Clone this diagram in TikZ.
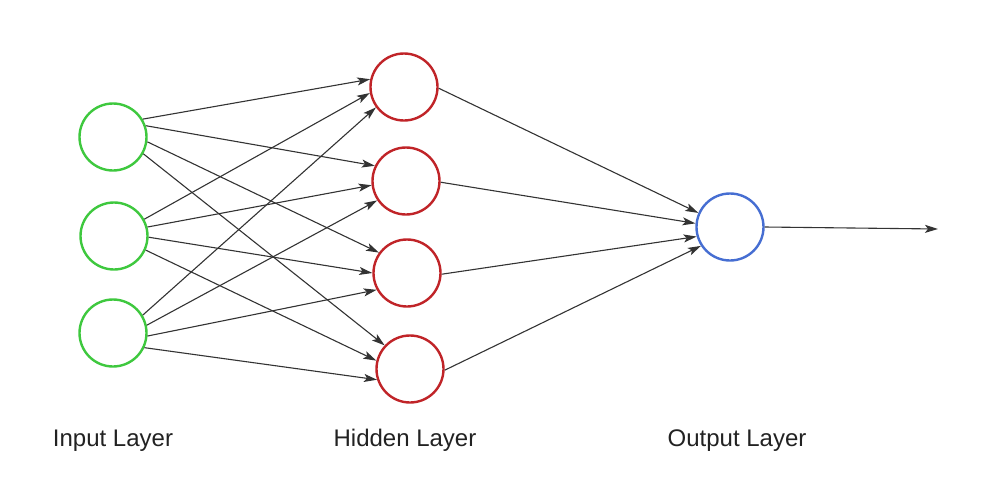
\documentclass[tikz,border=0pt]{standalone}
\usepackage{fontspec}
\setmainfont{Liberation Sans}
\usepackage{xcolor}
\usepackage{tikz}
\usetikzlibrary{positioning}
\usetikzlibrary{arrows.meta}
\definecolor{ingreen}{RGB}{62,200,62}
\definecolor{hidred}{RGB}{192,36,40}
\definecolor{outblue}{RGB}{70,110,210}
\definecolor{textgrey}{RGB}{34,34,34}
\tikzset{
    x=1pt, y=-1pt,
    neuron/.style={shape=circle,minimum size=67pt,inner sep=0,line width=2.4pt,fill=white},
    in node/.style={neuron,draw=ingreen},
    hid node/.style={neuron,draw=hidred},
    out node/.style={neuron,draw=outblue},
    link/.style={-{Stealth[length=13pt,width=8pt,inset=3pt]},line width=1.1pt,draw=black!80},
    layer label/.style={anchor=base,text=textgrey,font=\fontsize{24}{28}\selectfont}
}
\begin{document}
\begin{tikzpicture}
    \useasboundingbox (0,0) rectangle (991,477);
    % input layer
    \node(in1)[in node] at (113,137) {};
    \node(in2)[in node] at (114,236) {};
    \node(in3)[in node] at (113,333) {};
    % hidden layer
    \node(hid1)[hid node] at (404,87) {};
    \node(hid2)[hid node] at (406,181) {};
    \node(hid3)[hid node] at (407,273) {};
    \node(hid4)[hid node] at (410,369) {};
    % output layer
    \node(out)[out node] at (730,227) {};
    \coordinate(res) at (938,229);
    % input -> hidden (from/angle/to/angle)
    \foreach \i/\a/\j/\b in {1/31/1/167, 2/29/1/190, 3/31/1/216,
                             1/19/2/154, 2/15/2/187, 3/13/2/214,
                             1/-8/3/144, 2/-2/3/180, 3/-5/3/209,
                             1/-29/4/137, 2/-24/4/166, 3/-25/4/198}
        \draw[link](in\i.\a)--(hid\j.\b);
    % hidden -> output
    \foreach \j/\b in {1/156, 2/174, 3/196, 4/213}
        \draw[link](hid\j.-2)--(out.\b);
    \draw[link](out.east)--(res);
    \node(inlabel)[layer label] at (113,446) {Input Layer};
    \node(hidlabel)[layer label] at (405,446) {Hidden Layer};
    \node(outlabel)[layer label] at (737,446) {Output Layer};
\end{tikzpicture}
\end{document}
